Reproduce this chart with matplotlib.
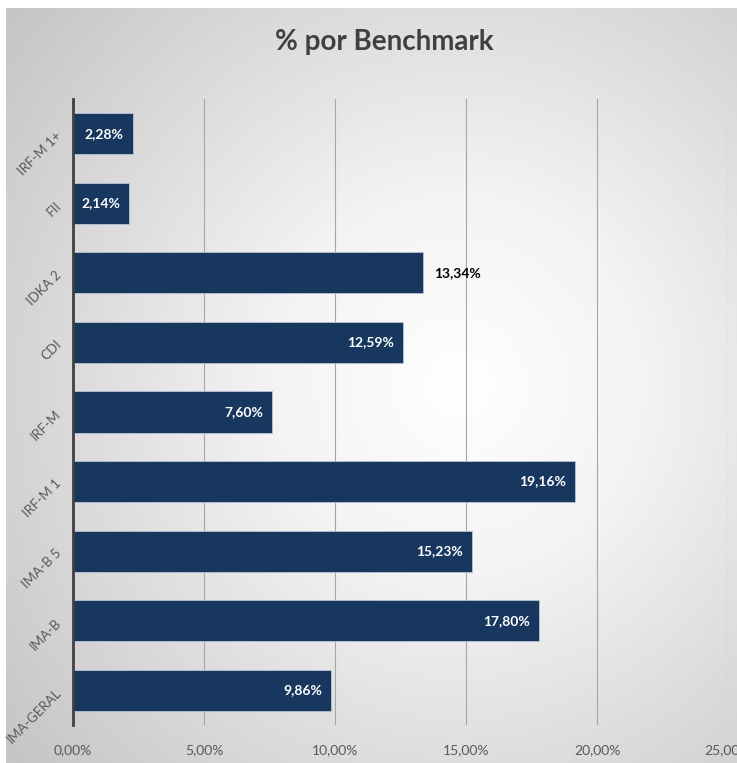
import numpy as np
import matplotlib
matplotlib.use("Agg")
import matplotlib.pyplot as plt
from matplotlib.colors import LinearSegmentedColormap

# data, top to bottom as shown
categories = ['IRF-M 1+', 'FII', 'IDKA 2', 'CDI', 'IRF-M', 'IRF-M 1', 'IMA-B 5', 'IMA-B', 'IMA-GERAL']
values = [2.28, 2.14, 13.34, 12.59, 7.60, 19.16, 15.23, 17.80, 9.86]
outside = ['IDKA 2']   # labels drawn past the bar end
xticks = [0, 5, 10, 15, 20, 25]

plt.rcParams['font.family'] = ['Lato', 'DejaVu Sans']

W, H = 737, 763
fig = plt.figure(figsize=(W / 100, H / 100), dpi=100)
fig.patch.set_facecolor('white')

# radial grey background of the chart area
bg = fig.add_axes([6 / W, 0, 1 - 6 / W, 1 - 8 / H], zorder=0)
yy, xx = np.mgrid[0:1:400j, 0:1:400j]
r = np.sqrt(((xx - 0.62) / 0.78) ** 2 + ((yy - 0.5) / 0.78) ** 2)
cmap = LinearSegmentedColormap.from_list('bg', ['#ffffff', '#f3f3f3', '#dcdcdc', '#c6c6c6'])
bg.imshow(np.clip(r, 0, 1), cmap=cmap, vmin=0, vmax=1, aspect='auto', extent=[0, 1, 0, 1])
bg.axis('off')

ax = fig.add_axes([73 / W, 1 - 725 / H, (728 - 73) / W, (725 - 99) / H], zorder=1)
ax.patch.set_alpha(0)

y = np.arange(len(categories))
ax.barh(y, values, height=0.59, color='#17375E', edgecolor='#b8c4d6', linewidth=0.6, zorder=3)

for yi, (cat, v) in enumerate(zip(categories, values)):
    lbl = f'{v:.2f}%'.replace('.', ',')
    if cat in outside:
        ax.text(v + 0.45, yi, lbl, ha='left', va='center', color='black',
                fontsize=10, fontweight='bold', zorder=4)
    else:
        ax.text(v - 0.35, yi, lbl, ha='right', va='center', color='white',
                fontsize=10, fontweight='bold', zorder=4)

ax.set_ylim(len(categories) - 0.5, -0.5)
ax.set_xlim(0, 25)
ax.set_xticks(xticks)
ax.set_xticklabels([f'{t:.2f}%'.replace('.', ',') for t in xticks], color='#595959', fontsize=10)
ax.set_yticks(y)
ax.set_yticklabels(categories, rotation=45, ha='right', va='center', rotation_mode='anchor',
                   color='#595959', fontsize=9.5)
ax.tick_params(axis='x', length=0, pad=14)
ax.tick_params(axis='y', length=0, pad=10)
ax.grid(axis='x', color='#a6a6a6', linewidth=0.8, zorder=0)
for s in ['top', 'right', 'bottom']:
    ax.spines[s].set_visible(False)
ax.spines['left'].set_color('#404040')
ax.spines['left'].set_linewidth(2)
ax.spines['left'].set_zorder(5)

fig.text(384 / W, 1 - 42 / H, '% por Benchmark', ha='center', va='center',
         fontsize=20, fontweight='bold', color='#404040')

fig.savefig('out.png', dpi=100)
